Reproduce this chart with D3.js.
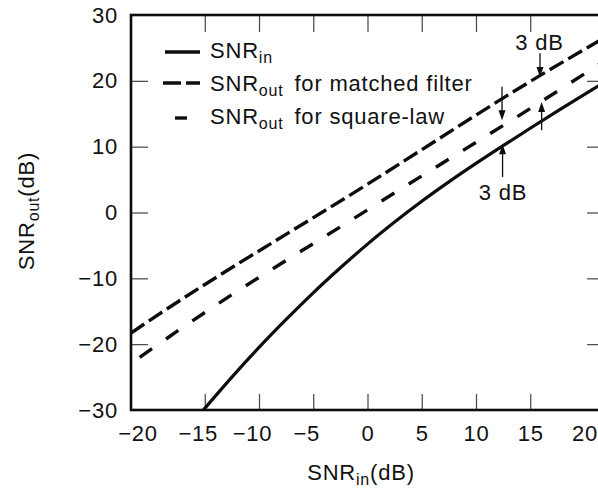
<!DOCTYPE html>
<html><head><meta charset="utf-8">
<script src="https://cdn.jsdelivr.net/npm/d3@7"></script>
<style>
body{margin:0;background:#fff}
text{font-family:"Liberation Sans",Arial,Helvetica,sans-serif;fill:#111;letter-spacing:0.8px}
</style>
</head><body>
<svg id="chart" width="598" height="491"></svg>
<script>
// ---- data (dB) ----
const xDomain = [-21.8, 21.8];
const yDomain = [-30, 30];
const xTickValues = [-20, -15, -10, -5, 0, 5, 10, 15, 20];
const xInnerTicks = [-15, -10, -5, 0, 5, 10, 15];
const yTickValues = [-30, -20, -10, 0, 10, 20, 30];
const yInnerTicks = [-20, -10, 0, 10, 20];

// SNR_in curve (solid)
const solidX = [-15.13, -12.5, -10, -7.5, -5, -2.5, 0, 2.5, 5, 7.5, 10, 12.5, 15, 17.5, 20, 21.8];
const solidY = [-30, -25.0, -20.5, -16.25, -12.2, -8.4, -4.8, -1.45, 1.7, 4.65, 7.45, 10.15, 12.8, 15.4, 17.95, 19.75];
// SNR_out for matched filter (long dashes)
const matchedX = [-21.8, -20, 0, 16, 21.8];
const matchedY = [-18.3, -16.3, 4.3, 20.9, 26.5];
// SNR_out for square-law (short dashes)
const squareX = [-21.0, -16.0, 0, 20.5, 21.8];
const squareY = [-22.0, -16.3, 0.4, 21.6, 23.0];

// "3 dB" dimension arrows: x, from y, to y (tip)
const arrowX = [15.9, 16.05, 12.4, 12.45];
const arrowFrom = [24.2, 12.5, 19.1, 5.4];
const arrowTo = [20.6, 16.8, 14.0, 10.35];
const noteX = [15.85, 12.5];
const noteY = [24.7, 1.9];
const noteText = ["3 dB", "3 dB"];

const legendMain = ["SNR", "SNR", "SNR"];
const legendSub = ["in", "out", "out"];
const legendRest = ["", "for matched filter", "for square-law"];

// ---- layout ----
const svg = d3.select("#chart");
const x = d3.scaleLinear().domain(xDomain).range([131, 604]);
const y = d3.scaleLinear().domain(yDomain).range([410, 15]);
const ink = "#0d0d0d";

// inner ticks
function styleTicks(g){ g.select(".domain").remove(); g.selectAll("line").attr("stroke","#444").attr("stroke-width",1.2); }
svg.append("g").attr("transform",`translate(0,${y(-30)})`)
  .call(d3.axisTop(x).tickValues(xInnerTicks).tickSize(16).tickFormat("")).call(styleTicks);
svg.append("g").attr("transform",`translate(0,${y(30)})`)
  .call(d3.axisBottom(x).tickValues(xInnerTicks).tickSize(17).tickFormat("")).call(styleTicks);
svg.append("g").attr("transform",`translate(${x(xDomain[0])},0)`)
  .call(d3.axisRight(y).tickValues(yInnerTicks).tickSize(17).tickFormat("")).call(styleTicks);
svg.append("g").attr("transform",`translate(${x(xDomain[1])},0)`)
  .call(d3.axisLeft(y).tickValues(yInnerTicks).tickSize(17).tickFormat("")).call(styleTicks);

// tick labels
const xl = svg.append("g").attr("transform",`translate(0,${y(-30)})`)
  .call(d3.axisBottom(x).tickValues(xTickValues).tickSize(0).tickPadding(15.5));
xl.select(".domain").remove();
xl.selectAll("text").attr("font-size",22).attr("fill","#111")
  .attr("font-family",'"Liberation Sans",Arial,sans-serif')
  .attr("dx", d => d === -20 ? -13 : (d < 0 ? -7 : 0));
const yl = svg.append("g").attr("transform",`translate(${x(xDomain[0])},0)`)
  .call(d3.axisLeft(y).tickValues(yTickValues).tickSize(0).tickPadding(13));
yl.select(".domain").remove();
yl.selectAll("text").attr("font-size",22).attr("fill","#111")
  .attr("font-family",'"Liberation Sans",Arial,sans-serif');

// frame
svg.append("rect").attr("x",x(xDomain[0])).attr("y",y(30))
  .attr("width",x(xDomain[1])-x(xDomain[0])).attr("height",y(-30)-y(30))
  .attr("fill","none").attr("stroke",ink).attr("stroke-width",2.6);

// curves
const line = d3.line().x(d=>x(d[0])).y(d=>y(d[1])).curve(d3.curveMonotoneX);
svg.append("clipPath").attr("id","c").append("rect")
  .attr("x",x(xDomain[0])).attr("y",y(30)).attr("width",x(xDomain[1])-x(xDomain[0])).attr("height",y(-30)-y(30));
const plot = svg.append("g").attr("clip-path","url(#c)");
plot.append("path").datum(d3.zip(solidX, solidY)).attr("d",line)
  .attr("fill","none").attr("stroke",ink).attr("stroke-width",3.2);
plot.append("path").datum(d3.zip(matchedX, matchedY)).attr("d",line)
  .attr("fill","none").attr("stroke",ink).attr("stroke-width",3.4).attr("stroke-dasharray","16,5.5");
plot.append("path").datum(d3.zip(squareX, squareY)).attr("d",line)
  .attr("fill","none").attr("stroke",ink).attr("stroke-width",3.4).attr("stroke-dasharray","15,17");

// arrows
arrowX.forEach((ax,i)=>{
  const px = x(ax), y0 = y(arrowFrom[i]), y1 = y(arrowTo[i]);
  const dir = y1 > y0 ? 1 : -1;
  svg.append("line").attr("x1",px).attr("x2",px).attr("y1",y0).attr("y2",y1 - dir*6)
    .attr("stroke",ink).attr("stroke-width",1.3);
  svg.append("path").attr("d",`M${px},${y1} L${px-3.5},${y1-dir*10} L${px+3.5},${y1-dir*10} Z`).attr("fill",ink);
});
noteX.forEach((nx,i)=>{
  svg.append("text").attr("x",x(nx)).attr("y",y(noteY[i])).attr("text-anchor","middle")
    .attr("font-size",22).text(noteText[i]);
});

// legend
const legY = [58, 91, 124];
const legLineY = [52, 83, 118];
const legDash = [null, "18,5", null];
const legSeg = [[165,200],[163,200],[175,187]];
legendMain.forEach((m,i)=>{
  svg.append("line").attr("x1",legSeg[i][0]).attr("x2",legSeg[i][1]).attr("y1",legLineY[i]).attr("y2",legLineY[i])
    .attr("stroke",ink).attr("stroke-width",3.4).attr("stroke-dasharray",legDash[i]);
  const t = svg.append("text").attr("x",210).attr("y",legY[i]).attr("font-size",22);
  t.append("tspan").text(m);
  t.append("tspan").attr("font-size",16).attr("dy",5).text(legendSub[i]);
  if (legendRest[i]) t.append("tspan").attr("dy",-5).attr("dx",4).text(" " + legendRest[i]);
});

// axis titles
const xt = svg.append("text").attr("x",361).attr("y",480).attr("text-anchor","middle").attr("font-size",22);
xt.append("tspan").text("SNR");
xt.append("tspan").attr("font-size",16).attr("dy",5).text("in");
xt.append("tspan").attr("dy",-5).text("(dB)");
const yt = svg.append("text").attr("transform","translate(34,211) rotate(-90)").attr("text-anchor","middle").attr("font-size",22);
yt.append("tspan").text("SNR");
yt.append("tspan").attr("font-size",16).attr("dy",5).text("out");
yt.append("tspan").attr("dy",-5).text("(dB)");
</script>
</body></html>
